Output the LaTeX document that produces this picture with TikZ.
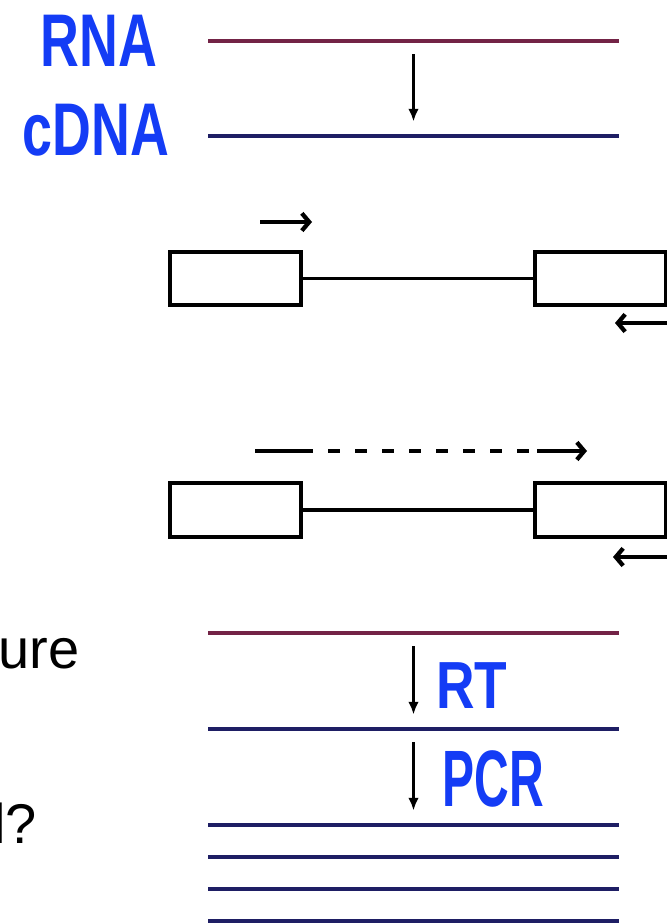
\documentclass[tikz,border=0pt]{standalone}
\usepackage{fontspec}
\setmainfont{Liberation Sans}
\usetikzlibrary{arrows.meta, positioning}

\definecolor{rnared}{RGB}{115,35,70}
\definecolor{dnablue}{RGB}{30,30,100}
\definecolor{penblue}{RGB}{20,60,245}

\begin{document}
\begin{tikzpicture}[x=0.75pt, y=-0.75pt]
  \useasboundingbox (0,0) rectangle (667,924);

  \tikzset{
    strand/.style={
      rectangle,
      inner sep=0pt,
      minimum width=308pt,
      minimum height=3.4pt},
    convert/.style={
      -{Latex[length=9.5pt,width=8pt]},
      line width=1.9pt,
      shorten <=8pt,
      shorten >=9pt},
    exon/.style={
      rectangle,
      draw=black,
      line width=3pt,
      inner sep=0pt,
      minimum width=98pt,
      minimum height=40pt},
    intron/.style={
      line width=2.6pt},
    primer/.style={
      -{Straight Barb[length=5.5pt,width=13pt]},
      line width=3.2pt},
    pen/.style={
      text=penblue,
      font=\bfseries,
      inner sep=0pt},
    slide/.style={
      font=\fontsize{42}{44}\selectfont,
      inner sep=0pt}}

  % RNA -> cDNA
  \node[strand, fill=rnared] (rna) at (413.5,41) {};
  \node[strand, fill=dnablue] (cdna) at (413.5,136) {};
  \node[pen] (rnalabel) at (99,41)
    {\fontsize{56}{58}\selectfont\scalebox{0.72}[1]{RNA}};
  \node[pen] (cdnalabel) at (96,130)
    {\fontsize{56}{58}\selectfont\scalebox{0.72}[1]{cDNA}};
  \path[convert] (rna) edge (cdna);

  % exon - intron - exon, primers
  \node[exon] (ex1) at (235.5,278.5) {};
  \node[exon] (ex2) at (600.5,278.5) {};
  \draw[intron] (ex1.east) -- (ex2.west);
  \coordinate (fwd1a) at (260,222);
  \coordinate (fwd1b) at (312,222);
  \coordinate (rev1a) at (690,323);
  \coordinate (rev1b) at (615,323);
  \draw[primer] (fwd1a) -- (fwd1b);
  \draw[primer] (rev1a) -- (rev1b);

  % extension across the intron
  \node[exon] (ex3) at (235.5,510) {};
  \node[exon] (ex4) at (600.5,510) {};
  \draw[intron] (ex3.east) -- (ex4.west);
  \coordinate (ext0) at (255,451);
  \coordinate (ext1) at (313,451);
  \coordinate (ext2) at (328,451);
  \coordinate (ext3) at (530,451);
  \coordinate (ext4) at (537,451);
  \coordinate (ext5) at (587,451);
  \draw[line width=3.2pt] (ext0) -- (ext1);
  \draw[line width=3.2pt, dash pattern=on 9pt off 11.25pt] (ext2) -- (ext3);
  \draw[primer] (ext4) -- (ext5);
  \coordinate (rev2a) at (690,557);
  \coordinate (rev2b) at (613,557);
  \draw[primer] (rev2a) -- (rev2b);

  % RT-PCR
  \node[slide, anchor=base west] (ure) at (-2,668) {ure};
  \node[slide, anchor=base west] (quest) at (-7,843) {l?};

  \node[strand, fill=rnared] (rt0) at (413.5,633) {};
  \node[strand, fill=dnablue] (rt1) at (413.5,729) {};
  \node[strand, fill=dnablue] (pcr1) at (413.5,825) {};
  \node[strand, fill=dnablue] (pcr2) at (413.5,857) {};
  \node[strand, fill=dnablue] (pcr3) at (413.5,889) {};
  \node[strand, fill=dnablue] (pcr4) at (413.5,921) {};
  \path[convert] (rt0) edge (rt1);
  \path[convert] (rt1) edge (pcr1);
  \node[pen] (rtlabel) at (472,686)
    {\fontsize{50}{52}\selectfont\scalebox{0.8}[1]{RT}};
  \node[pen] (pcrlabel) at (493,779)
    {\fontsize{60}{62}\selectfont\scalebox{0.6}[1]{PCR}};

\end{tikzpicture}
\end{document}
